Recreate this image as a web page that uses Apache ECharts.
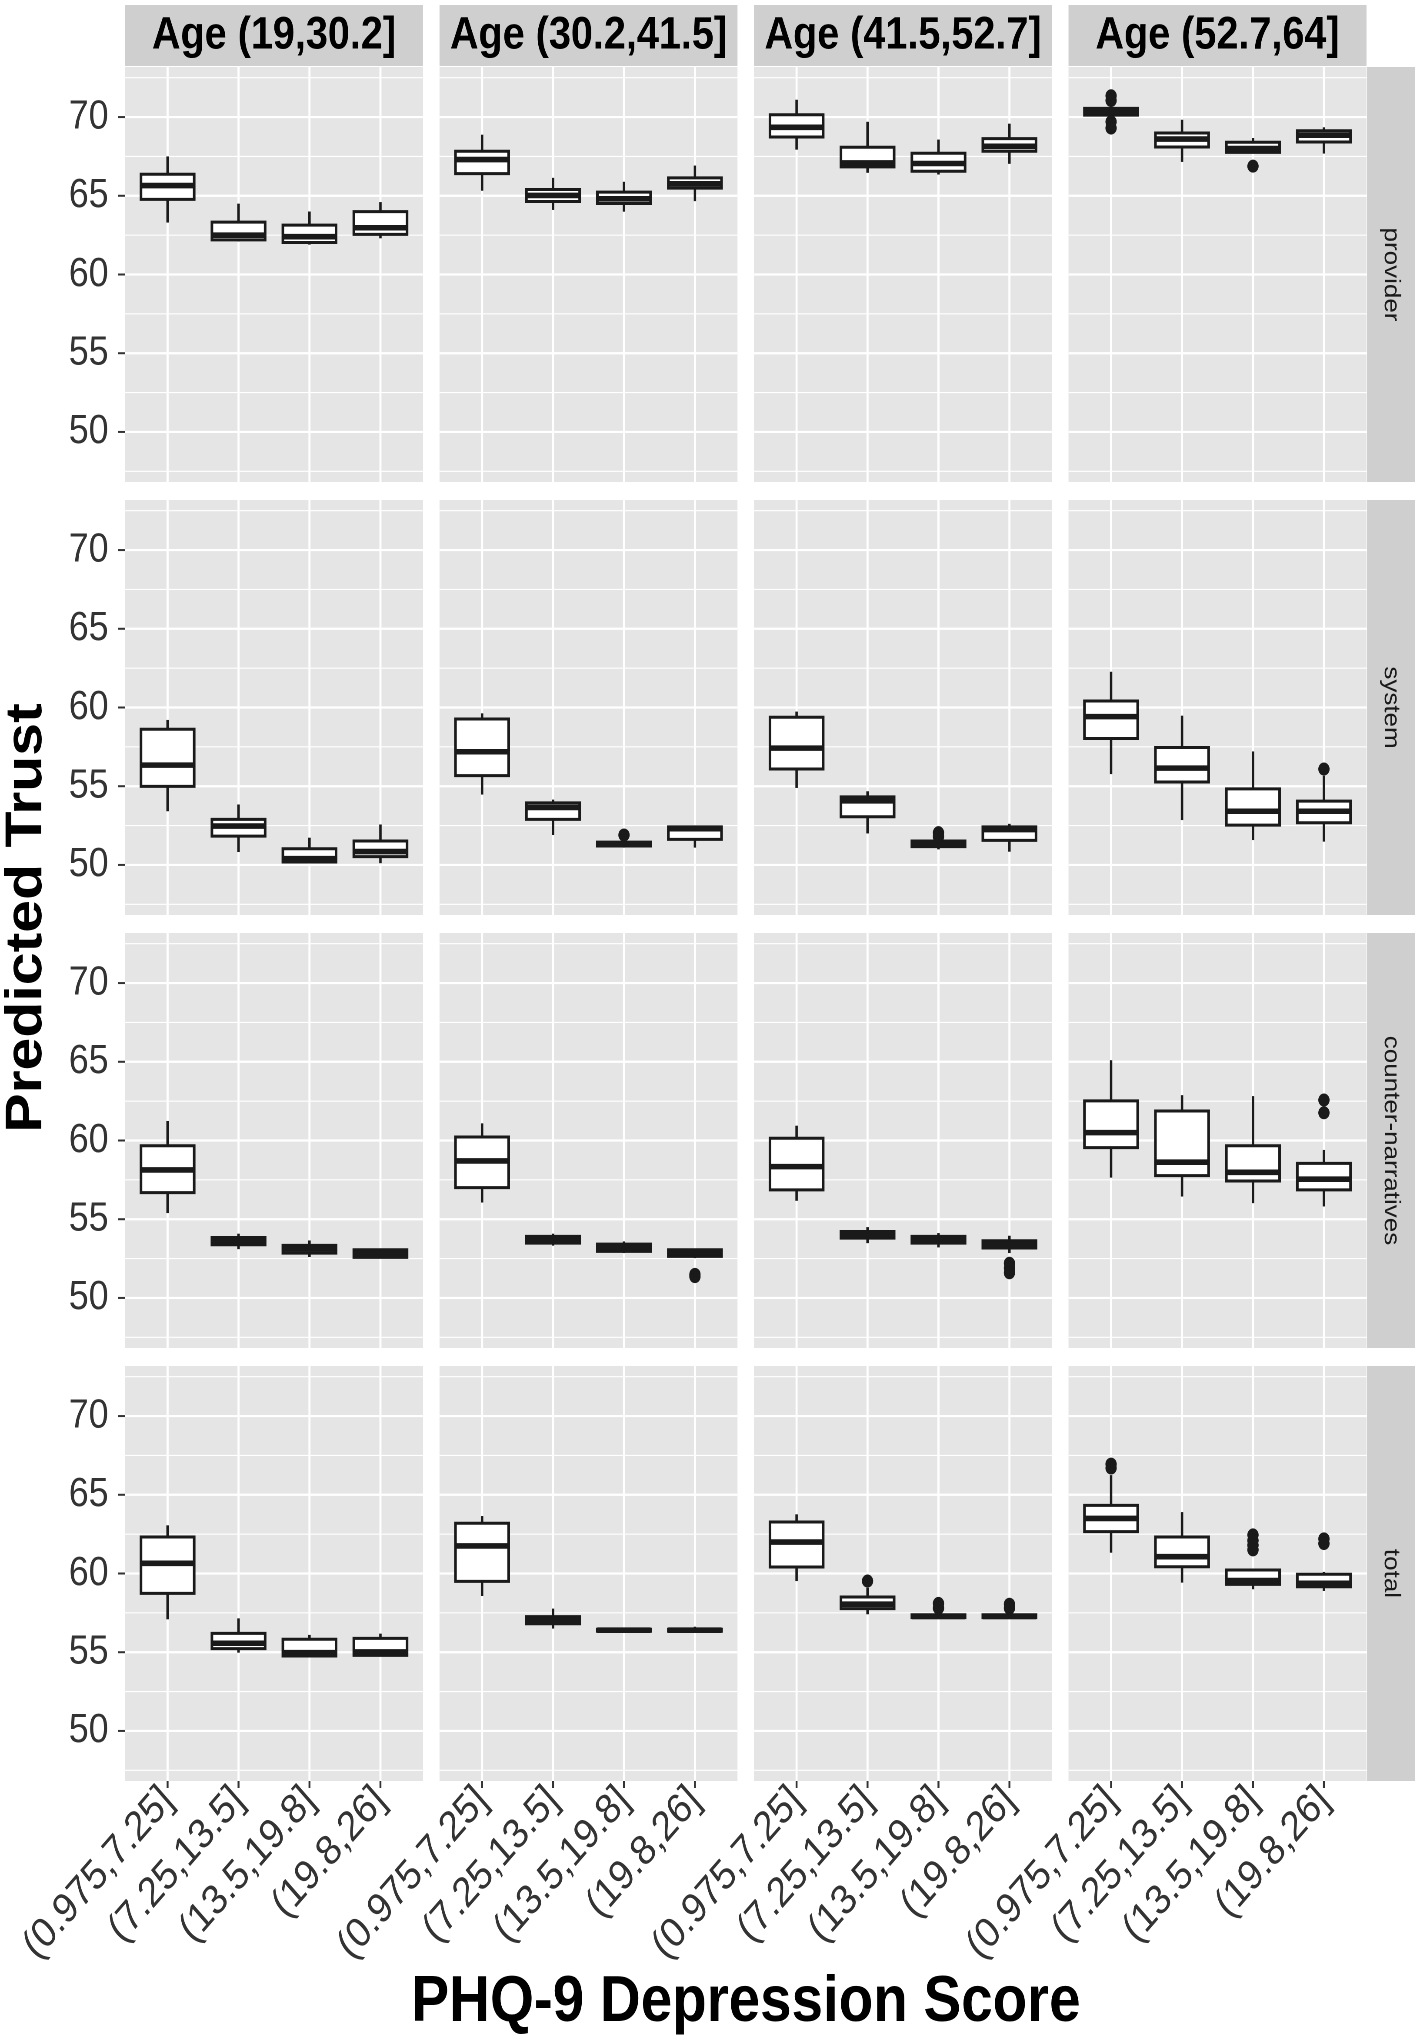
<!DOCTYPE html>
<html><head><meta charset="utf-8">
<script src="https://cdn.jsdelivr.net/npm/echarts@6/dist/echarts.min.js"></script>
<style>html,body{margin:0;padding:0;background:#fff;overflow:hidden}#wrap{width:1421px;height:2040px;overflow:hidden}#chart{height:2040px;transform-origin:0 0}</style>
</head><body><div id="wrap"><div id="chart"></div></div>
<script>
// ---------- data ----------
const ageGroups = ['Age (19,30.2]', 'Age (30.2,41.5]', 'Age (41.5,52.7]', 'Age (52.7,64]'];
const trustTypes = ['provider', 'system', 'counter-narratives', 'total'];
const phqBins = ['(0.975,7.25]', '(7.25,13.5]', '(13.5,19.8]', '(19.8,26]'];
const yTicks = [50, 55, 60, 65, 70];
const yMinor = [47.5, 52.5, 57.5, 62.5, 67.5, 72.5];

// each box: [lower whisker, Q1, median, Q3, upper whisker]; one row per age group, one box per PHQ bin
const providerStats = [
  [[63.3, 64.77, 65.65, 66.37, 67.5], [62.1, 62.2, 62.5, 63.33, 64.5], [61.9, 62.03, 62.4, 63.14, 64.0], [62.3, 62.55, 62.97, 63.99, 64.6]],
  [[65.32, 66.41, 67.3, 67.83, 68.88], [64.1, 64.64, 65.02, 65.4, 66.14], [63.99, 64.51, 64.81, 65.23, 65.89], [64.66, 65.49, 65.76, 66.14, 66.92]],
  [[67.93, 68.73, 69.35, 70.15, 71.1], [66.46, 66.84, 67.09, 68.08, 69.7], [66.35, 66.56, 67.05, 67.7, 68.57], [67.03, 67.83, 68.14, 68.63, 69.58]],
  [[70.0, 70.12, 70.35, 70.55, 70.7], [67.15, 68.1, 68.6, 68.99, 69.83], [67.7, 67.76, 68.0, 68.4, 68.67], [67.68, 68.42, 68.85, 69.13, 69.35]]
];
const systemStats = [
  [[53.41, 54.99, 56.34, 58.62, 59.21], [50.82, 51.83, 52.47, 52.89, 53.84], [50.15, 50.19, 50.4, 51.03, 51.73], [50.11, 50.53, 50.85, 51.52, 52.57]],
  [[54.47, 55.67, 57.19, 59.27, 59.63], [51.9, 52.89, 53.65, 53.94, 54.15], [51.1, 51.2, 51.33, 51.45, 51.5], [51.1, 51.62, 52.3, 52.42, 52.47]],
  [[54.89, 56.09, 57.42, 59.38, 59.74], [52.0, 53.06, 54.07, 54.32, 54.68], [50.99, 51.16, 51.31, 51.52, 51.6], [50.84, 51.56, 52.25, 52.42, 52.61]],
  [[55.77, 58.03, 59.42, 60.41, 62.27], [52.85, 55.27, 56.15, 57.46, 59.48], [51.58, 52.53, 53.41, 54.83, 57.21], [51.48, 52.68, 53.41, 54.05, 55.67]]
];
const counterStats = [
  [[55.39, 56.69, 58.13, 59.67, 61.24], [53.1, 53.38, 53.59, 53.84, 54.08], [52.6, 52.85, 53.1, 53.34, 53.65], [52.51, 52.58, 52.81, 53.06, 53.06]],
  [[56.06, 57.01, 58.7, 60.22, 61.09], [53.32, 53.48, 53.7, 53.91, 54.08], [52.85, 52.96, 53.17, 53.42, 53.59], [52.53, 52.64, 52.85, 53.06, 53.1]],
  [[56.17, 56.86, 58.34, 60.14, 60.94], [53.48, 53.8, 54.01, 54.22, 54.5], [53.21, 53.48, 53.7, 53.91, 54.12], [52.85, 53.17, 53.38, 53.63, 53.95]],
  [[57.64, 59.55, 60.5, 62.52, 65.1], [56.44, 57.77, 58.62, 61.87, 62.88], [56.02, 57.43, 57.98, 59.67, 62.82], [55.81, 56.86, 57.54, 58.55, 59.4]]
];
const totalStats = [
  [[57.09, 58.74, 60.65, 62.32, 63.06], [54.97, 55.23, 55.57, 56.2, 57.15], [54.76, 54.76, 54.97, 55.82, 56.1], [54.8, 54.8, 55.02, 55.88, 56.18]],
  [[58.57, 59.5, 61.75, 63.19, 63.65], [56.5, 56.81, 57.05, 57.26, 57.77], [56.3, 56.33, 56.4, 56.46, 56.52], [56.3, 56.33, 56.4, 56.46, 56.62]],
  [[59.52, 60.41, 62.0, 63.27, 63.76], [57.41, 57.77, 58.05, 58.51, 59.1], [57.15, 57.2, 57.27, 57.38, 57.45], [57.15, 57.2, 57.27, 57.38, 57.45]],
  [[61.32, 62.66, 63.5, 64.33, 66.25], [59.42, 60.43, 61.07, 62.32, 63.9], [59.0, 59.31, 59.55, 60.22, 60.22], [58.89, 59.16, 59.38, 59.95, 60.1]]
];

// outliers: [age group index, PHQ bin index, value]
const providerOutliers = [[3, 0, 71.35], [3, 0, 71.05], [3, 0, 69.7], [3, 0, 69.3], [3, 2, 66.88]];
const systemOutliers = [[1, 2, 51.9], [2, 2, 52.05], [2, 2, 51.8], [3, 3, 56.09]];
const counterOutliers = [[1, 3, 51.5], [1, 3, 51.35], [2, 3, 52.2], [2, 3, 51.9], [2, 3, 51.6], [3, 3, 62.57], [3, 3, 61.76]];
const totalOutliers = [[2, 1, 59.52], [2, 2, 58.1], [2, 2, 57.8], [2, 3, 58.05], [2, 3, 57.8],
  [3, 0, 66.95], [3, 0, 66.7], [3, 2, 62.45], [3, 2, 62.1], [3, 2, 61.8], [3, 2, 61.5], [3, 3, 62.2], [3, 3, 61.9]];

// ---------- layout ----------
// The reference figure is slightly compressed horizontally; the chart is drawn K times wider and squeezed back.
const K = 1.15;
const statsByRow = [providerStats, systemStats, counterStats, totalStats];
const outliersByRow = [providerOutliers, systemOutliers, counterOutliers, totalOutliers];
const FONT = "'Liberation Sans', Arial, Helvetica, sans-serif";
const L = [125, 439.5, 754, 1068.5].map(v => v * K), W = 298 * K;
const T = [67, 500, 933, 1366], H = 415;
const Y_MIN = 46.82, Y_MAX = 73.18;

const grids = [], xAxes = [], yAxes = [], series = [], graphics = [];

for (let r = 0; r < 4; r++) {
  for (let c = 0; c < 4; c++) {
    const k = r * 4 + c;
    grids.push({ left: L[c], top: T[r], width: W, height: H, show: true, backgroundColor: '#E5E5E5', borderWidth: 0, containLabel: false, outerBoundsMode: 'none' });
    xAxes.push({
      gridIndex: k, type: 'value', min: -0.6, max: 3.6,
      axisLine: { show: false }, splitLine: { show: false }, axisTick: { show: false },
      axisLabel: { show: r === 3, customValues: [0, 1, 2, 3], formatter: v => phqBins[Math.round(v)], rotate: 45, margin: 13,
        fontSize: 42, fontFamily: FONT, color: '#333' }
    });
    yAxes.push({
      gridIndex: k, type: 'value', min: Y_MIN, max: Y_MAX,
      axisLine: { show: false }, splitLine: { show: false }, axisTick: { show: false },
      axisLabel: { show: c === 0, customValues: yTicks, formatter: v => String(Math.round(v)), margin: 19,
        fontSize: 41, fontFamily: FONT, color: '#333' }
    });
    // panel gridlines and axis ticks
    series.push({
      type: 'custom', xAxisIndex: k, yAxisIndex: k, silent: true, z: 1, clip: false, data: [[-0.6, Y_MIN]],
      renderItem: (params, api) => {
        const cs = params.coordSys;
        const kids = [];
        yMinor.forEach(v => { const y = api.coord([0, v])[1];
          kids.push({ type: 'line', shape: { x1: cs.x, y1: y, x2: cs.x + cs.width, y2: y }, style: { stroke: '#fff', lineWidth: 1.1 } }); });
        yTicks.forEach(v => { const y = api.coord([0, v])[1];
          kids.push({ type: 'line', shape: { x1: cs.x, y1: y, x2: cs.x + cs.width, y2: y }, style: { stroke: '#fff', lineWidth: 2.2 } });
          if (c === 0) kids.push({ type: 'line', shape: { x1: cs.x - 8, y1: y, x2: cs.x, y2: y }, style: { stroke: '#333', lineWidth: 2 } }); });
        phqBins.forEach((b, i) => { const x = api.coord([i, 60])[0];
          kids.push({ type: 'line', shape: { x1: x, y1: cs.y, x2: x, y2: cs.y + cs.height }, style: { stroke: '#fff', lineWidth: 2.4 } });
          if (r === 3) kids.push({ type: 'line', shape: { x1: x, y1: cs.y + cs.height, x2: x, y2: cs.y + cs.height + 7 }, style: { stroke: '#333', lineWidth: 2.2 } }); });
        return { type: 'group', children: kids };
      }
    });
    // boxes
    series.push({
      type: 'custom', xAxisIndex: k, yAxisIndex: k, z: 3,
      data: statsByRow[r][c].map((s, i) => [i].concat(s)),
      encode: { x: 0, y: [1, 2, 3, 4, 5] },
      renderItem: (params, api) => {
        const i = api.value(0);
        const lo = api.coord([i, api.value(1)]), q1 = api.coord([i, api.value(2)]), med = api.coord([i, api.value(3)]),
              q3 = api.coord([i, api.value(4)]), hi = api.coord([i, api.value(5)]);
        const x = lo[0];
        const hw = api.size([0.75, 0])[0] / 2;
        const ink = '#1a1a1a';
        return { type: 'group', children: [
          { type: 'line', shape: { x1: x, y1: hi[1], x2: x, y2: q3[1] }, style: { stroke: ink, lineWidth: 2.8 } },
          { type: 'line', shape: { x1: x, y1: q1[1], x2: x, y2: lo[1] }, style: { stroke: ink, lineWidth: 2.8 } },
          { type: 'rect', shape: { x: x - hw, y: q3[1], width: 2 * hw, height: Math.max(q1[1] - q3[1], 0.5) }, style: { fill: '#fff', stroke: ink, lineWidth: 3 } },
          { type: 'line', shape: { x1: x - hw, y1: med[1], x2: x + hw, y2: med[1] }, style: { stroke: ink, lineWidth: 5.6 } }
        ] };
      }
    });
    // outliers
    series.push({
      type: 'scatter', xAxisIndex: k, yAxisIndex: k, z: 4, symbol: 'circle', symbolSize: 13,
      itemStyle: { color: '#1a1a1a', opacity: 1 },
      data: outliersByRow[r].filter(o => o[0] === c).map(o => [o[1], o[2]])
    });
  }
}

// strips
for (let c = 0; c < 4; c++) {
  graphics.push({ type: 'rect', shape: { x: L[c], y: 5, width: W, height: 61 }, style: { fill: '#CFCFCF' } });
  graphics.push({ type: 'text', x: L[c] + W / 2, y: 36, style: { text: ageGroups[c], fill: '#000', font: 'bold 45.5px ' + FONT,
    align: 'center', verticalAlign: 'middle', textAlign: 'center', textVerticalAlign: 'middle' } });
}
for (let r = 0; r < 4; r++) {
  graphics.push({ type: 'rect', shape: { x: 1367 * K, y: T[r], width: 48 * K, height: H }, style: { fill: '#CFCFCF' } });
  graphics.push({ type: 'text', x: 1391 * K, y: T[r] + H / 2, rotation: -Math.PI / 2, style: { text: trustTypes[r], fill: '#1a1a1a', font: '26px ' + FONT,
    align: 'center', verticalAlign: 'middle', textAlign: 'center', textVerticalAlign: 'middle' } });
}
graphics.push({ type: 'text', x: 27 * K, y: 918, rotation: Math.PI / 2, style: { text: 'Predicted Trust', fill: '#000', font: 'bold 59px ' + FONT,
  align: 'center', verticalAlign: 'middle', textAlign: 'center', textVerticalAlign: 'middle' } });
graphics.push({ type: 'text', x: 746 * K, y: 2003, style: { text: 'PHQ-9 Depression Score', fill: '#000', font: 'bold 65px ' + FONT,
  align: 'center', verticalAlign: 'middle', textAlign: 'center', textVerticalAlign: 'middle' } });

const el = document.getElementById('chart');
el.style.width = Math.round(1421 * K) + 'px';
el.style.transform = 'scaleX(' + (1 / K) + ')';
const chart = echarts.init(el, null, { renderer: 'canvas', devicePixelRatio: 2 });
chart.setOption({
  animation: false,
  backgroundColor: '#fff',
  grid: grids, xAxis: xAxes, yAxis: yAxes, series: series,
  graphic: { elements: graphics }
});
</script></body></html>
